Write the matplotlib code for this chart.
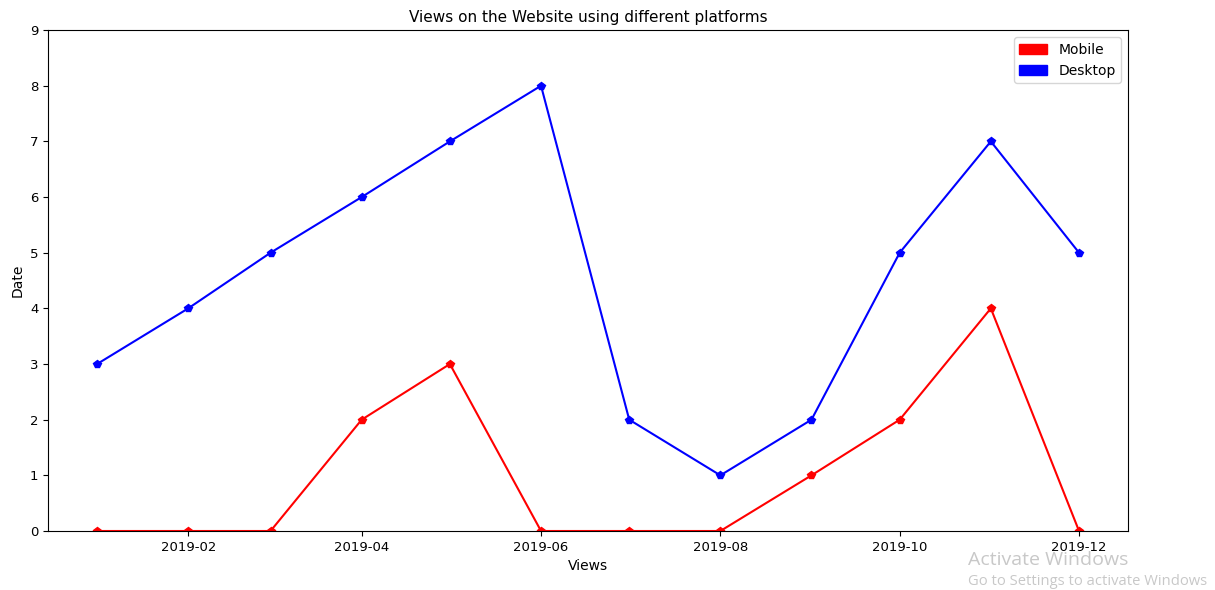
import matplotlib
matplotlib.use("Agg")
import matplotlib.pyplot as plt
import matplotlib.patches as mpatches
import matplotlib.dates as mdates
import pandas as pd

dates = pd.date_range("2019-01-01", periods=12, freq="MS")
mobile = [0, 0, 0, 2, 3, 0, 0, 0, 1, 2, 4, 0]
desktop = [3, 4, 5, 6, 7, 8, 2, 1, 2, 5, 7, 5]

fig = plt.figure(figsize=(12.15, 5.9), dpi=100)
ax = fig.add_axes([0.0395, 0.100, 0.889, 0.849])
ax.plot(dates, mobile, color="red", marker="p", markersize=6, linewidth=1.5)
ax.plot(dates, desktop, color="blue", marker="p", markersize=6, linewidth=1.5)
ax.set_ylim(0, 9)
ax.set_title("Views on the Website using different platforms", fontsize=11)
ax.set_xlabel("Views", fontsize=10)
ax.set_ylabel("Date", fontsize=10)
ax.tick_params(labelsize=9.5)
ax.xaxis.set_major_locator(mdates.MonthLocator(bymonth=[2, 4, 6, 8, 10, 12]))
ax.xaxis.set_major_formatter(mdates.DateFormatter("%Y-%m"))
handles = [mpatches.Patch(color="red", label="Mobile"), mpatches.Patch(color="blue", label="Desktop")]
ax.legend(handles=handles, loc="upper right", fontsize=10)

fig.text(0.797, 0.042, "Activate Windows", fontsize=14, color="#c8c8c8", family="Open Sans")
fig.text(0.797, 0.008, "Go to Settings to activate Windows", fontsize=10.6, color="#c8c8c8", family="Open Sans")

fig.savefig("out.png", dpi=100)
